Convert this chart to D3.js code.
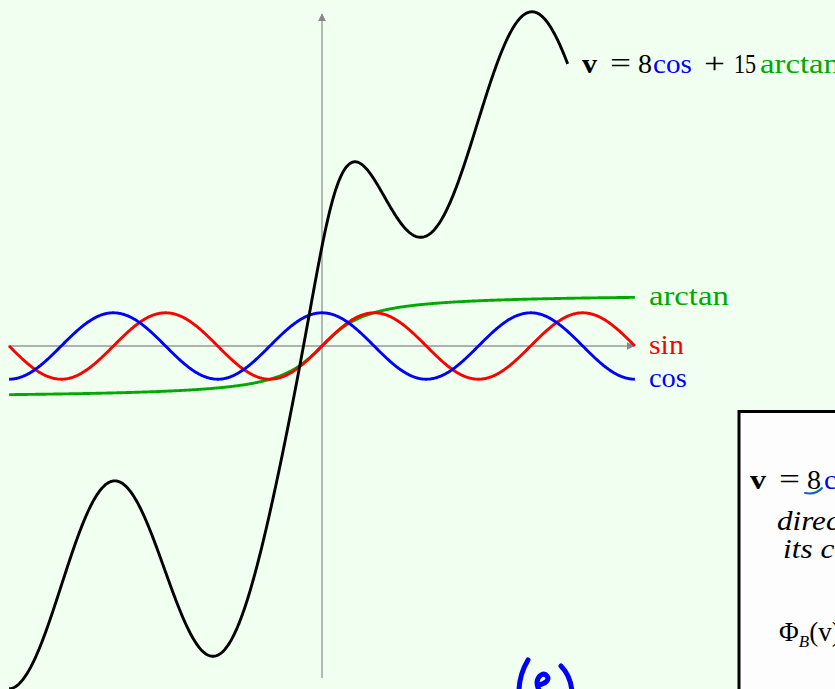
<!DOCTYPE html>
<html>
<head>
<meta charset="utf-8">
<script src="https://cdn.jsdelivr.net/npm/d3@7"></script>
<style>
html,body{margin:0;padding:0;background:#f0fff0;}
svg{display:block;}
</style>
</head>
<body>
<svg id="chart" width="835" height="689"></svg>
<script>
// ---- data ----
const xDomain = [-3 * Math.PI, 3 * Math.PI];
const yDomain = [-10, 10];
const seriesNames = ["arctan", "sin", "cos"];
const seriesColors = ["#00aa00", "#ff0000", "#0000ff"];
const vCosCoef = 3;      // drawn weight of cos in v
const vAtanCoef = 5;     // drawn weight of arctan in v
const vXEnd = 7.4;
const vLabelTexts = ["v", "=", "8", "cos", "+", "15", "arctan"];
const vLabelColors = ["#000", "#000", "#000", "#0000ff", "#000", "#000", "#00aa00"];
const boxLine1Texts = ["v", "=", "8", "cos"];
const boxLine1Colors = ["#000", "#000", "#000", "#0000ff"];
const boxItalicLines = ["direction", "its coordinates"];
const fns = {
  sin: Math.sin,
  cos: Math.cos,
  arctan: Math.atan,
  v: x => vCosCoef * Math.cos(x) + vAtanCoef * Math.atan(x)
};

// ---- layout ----
const unit = 33.2;
const ox = 322, oy = 346;
const svg = d3.select("#chart");
const x = d3.scaleLinear().domain(xDomain).range([ox + xDomain[0] * unit, ox + xDomain[1] * unit]);
const y = d3.scaleLinear().domain(yDomain).range([oy - yDomain[0] * unit, oy - yDomain[1] * unit]);

const defs = svg.append("defs");
defs.append("marker").attr("id", "arr").attr("viewBox", "0 0 10 10")
  .attr("refX", 9).attr("refY", 5).attr("markerWidth", 8).attr("markerHeight", 8)
  .attr("markerUnits", "userSpaceOnUse").attr("orient", "auto")
  .append("path").attr("d", "M0,0 L10,5 L0,10 z").attr("fill", "#888");

// axes
svg.append("line").attr("x1", x(xDomain[0]) - 1).attr("x2", x(xDomain[1]) - 1)
  .attr("y1", y(0)).attr("y2", y(0)).attr("stroke", "#999").attr("stroke-width", 1.4)
  .attr("marker-end", "url(#arr)");
svg.append("line").attr("x1", x(0)).attr("x2", x(0))
  .attr("y1", y(yDomain[0])).attr("y2", y(yDomain[1]))
  .attr("stroke", "#999").attr("stroke-width", 1.4).attr("marker-end", "url(#arr)");

const line = d3.line().x(d => x(d[0])).y(d => y(d[1]));
const samples = (f, a, b) => d3.range(0, 801).map(i => { const t = a + (b - a) * i / 800; return [t, f(t)]; });

// function curves
seriesNames.forEach((n, i) => {
  svg.append("path").attr("d", line(samples(fns[n], xDomain[0], xDomain[1])))
    .attr("fill", "none").attr("stroke", seriesColors[i]).attr("stroke-width", 2.9);
});
svg.append("path").attr("d", line(samples(fns.v, xDomain[0], vXEnd)))
  .attr("fill", "none").attr("stroke", "#000").attr("stroke-width", 2.9);

// helper: a text piece stretched to a width (Computer-Modern-like width)
const font = "'Liberation Serif', 'Times New Roman', serif";
function piece(t, px, py, w, color, opts = {}) {
  return svg.append("text").attr("x", px).attr("y", py)
    .attr("font-family", font).attr("font-size", opts.size || 27)
    .attr("font-weight", opts.bold ? "bold" : "normal")
    .attr("font-style", opts.italic ? "italic" : "normal")
    .attr("fill", color)
    .attr("textLength", w).attr("lengthAdjust", "spacingAndGlyphs")
    .text(t);
}

// series labels
const seriesLabelWidths = [80, 35, 38];
seriesNames.forEach((n, i) => {
  piece(n, x(xDomain[1]) + 14, y(fns[n](xDomain[1])) + 8, seriesLabelWidths[i], seriesColors[i]);
});

// v label
const vLabelX = [582, 610, 638, 653, 704, 734, 760];
const vLabelW = [15, 21, 14, 39, 21, 22, 80];
vLabelTexts.forEach((t, i) => piece(t, vLabelX[i], 73, vLabelW[i], vLabelColors[i],
  { bold: i === 0, size: (t === "=" || t === "+") ? 30 : 27 }));

// box at bottom right
svg.append("rect").attr("x", 739).attr("y", 411.5).attr("width", 120).attr("height", 300)
  .attr("fill", "#fdfdfd").attr("stroke", "#000").attr("stroke-width", 3);
const boxLine1X = [750, 779, 807, 824];
const boxLine1W = [16, 21, 14, 39];
boxLine1Texts.forEach((t, i) => piece(t, boxLine1X[i], 489, boxLine1W[i], boxLine1Colors[i],
  { bold: i === 0, size: t === "=" ? 30 : 27 }));
piece(boxItalicLines[0], 777, 530, 111, "#000", { italic: true });
piece(boxItalicLines[1], 783, 558, 184, "#000", { italic: true });
const pt = svg.append("text").attr("x", 779).attr("y", 641).attr("font-family", font).attr("font-size", 27);
pt.append("tspan").text("Φ");
pt.append("tspan").attr("font-size", 17).attr("dy", 6).attr("font-style", "italic").text("B");
pt.append("tspan").attr("dy", -6).text("(v)");
// blue handwritten underline under 8
svg.append("path").attr("d", "M805,493 C811,494 817,494 822,488").attr("fill", "none")
  .attr("stroke", "#1060d0").attr("stroke-width", 2).attr("stroke-linecap", "round");

// handwritten "(e)"
const hw = svg.append("g").attr("fill", "none").attr("stroke", "#0000ff")
  .attr("stroke-width", 5).attr("stroke-linecap", "round");
hw.append("path").attr("d", "M528,660 C522,670 519,680 519,692");
hw.append("path").attr("d", "M538,685 C545,684 550,680 547,676 C544,672 538,675 537,682 C537,688 539,690 541,693");
hw.append("path").attr("d", "M561,666 C567,672 571,680 572,692");
</script>
</body>
</html>
